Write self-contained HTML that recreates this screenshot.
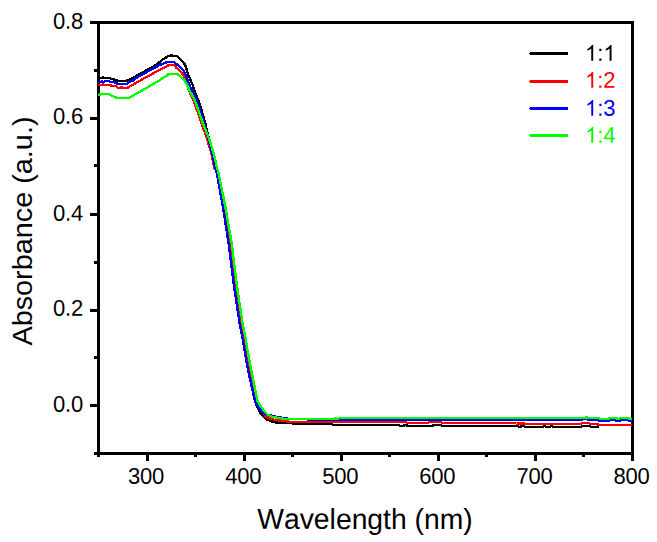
<!DOCTYPE html>
<html><head><meta charset="utf-8"><style>
html,body{margin:0;padding:0;background:#fff;}
body{width:657px;height:542px;overflow:hidden;}
svg{display:block;font-family:"Liberation Sans",sans-serif;font-kerning:none;}
</style></head><body>
<svg width="657" height="542" viewBox="0 0 657 542">
<rect width="657" height="542" fill="#fff"/>
<g fill="#000" shape-rendering="crispEdges">
<rect x="97" y="21" width="3" height="434"/>
<rect x="631" y="21" width="3" height="434"/>
<rect x="97" y="21" width="537" height="3"/>
<rect x="97" y="452" width="537" height="3"/>
<rect x="145.55" y="454" width="3" height="7"/><rect x="242.64" y="454" width="3" height="7"/><rect x="339.73" y="454" width="3" height="7"/><rect x="436.82" y="454" width="3" height="7"/><rect x="533.91" y="454" width="3" height="7"/><rect x="631.00" y="454" width="3" height="7"/><rect x="97.00" y="454" width="3" height="3"/><rect x="194.09" y="454" width="3" height="3"/><rect x="291.18" y="454" width="3" height="3"/><rect x="388.27" y="454" width="3" height="3"/><rect x="485.36" y="454" width="3" height="3"/><rect x="582.45" y="454" width="3" height="3"/><rect x="90" y="21" width="8" height="3"/><rect x="90" y="117" width="8" height="3"/><rect x="90" y="213" width="8" height="3"/><rect x="90" y="309" width="8" height="3"/><rect x="90" y="404" width="8" height="3"/><rect x="94" y="69" width="4" height="3"/><rect x="94" y="164" width="4" height="3"/><rect x="94" y="261" width="4" height="3"/><rect x="94" y="356" width="4" height="3"/><rect x="94" y="452" width="4" height="3"/>
</g>
<g fill="none" stroke-width="2.35" stroke-linejoin="round" shape-rendering="crispEdges">
<polyline stroke="#000" points="98.0,78.0 102.0,78.0 103.0,77.0 104.0,78.0 109.0,78.0 112.0,79.0 116.0,80.0 118.0,81.0 126.0,81.0 128.0,80.0 130.0,79.3 134.0,77.5 137.4,75.3 144.8,71.2 152.1,67.2 155.8,65.1 159.5,62.2 163.2,59.2 166.9,57.0 168.7,56.0 171.0,56.0 171.5,55.0 172.0,56.0 176.8,56.0 178.3,57.2 181.2,60.1 184.2,63.3 186.1,67.1 188.0,74.5 190.0,78.0 191.0,81.9 192.9,85.4 195.3,92.8 198.2,100.1 200.7,107.5 202.9,114.9 205.6,124.5 209.0,139.2 212.3,154.0 215.2,168.7 216.2,170.0 222.9,206.9 228.7,244.0 233.4,281.9 239.4,322.0 242.9,340.3 246.3,360.6 250.4,380.9 255.0,401.2 257.3,407.5 260.0,412.3 262.8,416.0 265.5,418.8 270.3,421.0 274.8,422.3 279.4,422.8 280.0,423.0 292.5,423.0 293.5,424.0 331.8,424.0 332.8,425.0 398.8,425.0 399.8,426.0 403.5,426.0 404.5,425.0 406.5,425.0 407.5,426.0 432.4,426.0 433.4,425.0 441.1,425.0 442.1,426.0 518.1,426.0 519.1,427.0 520.5,427.0 521.5,426.0 524.0,426.0 525.0,427.0 543.2,427.0 544.2,426.0 545.3,426.0 546.3,427.0 550.1,427.0 551.1,426.0 552.2,426.0 553.2,427.0 581.2,427.0 582.2,426.0 589.7,426.0 590.7,427.0 597.7,427.0 598.7,425.0 632.3,425.0"/>
<polyline stroke="#f00" points="98.0,85.0 102.4,85.0 103.0,84.0 104.0,85.0 110.5,85.0 111.0,86.0 116.4,86.0 117.0,87.0 118.0,88.0 120.8,88.0 121.5,87.0 123.0,88.0 127.5,88.0 128.5,87.0 130.4,86.0 132.6,85.0 137.4,82.1 144.8,78.0 152.1,74.0 159.5,69.9 163.2,68.1 166.9,66.2 168.7,65.0 173.9,65.0 176.1,67.5 179.8,70.6 183.5,75.4 184.9,78.6 187.0,85.0 190.0,92.8 193.4,100.1 196.0,107.5 198.8,114.9 202.0,124.5 207.1,139.2 211.5,154.0 214.5,168.7 217.0,170.0 224.0,206.9 230.2,243.7 235.0,281.9 240.8,322.0 244.4,340.3 247.8,360.6 251.9,380.9 256.7,401.2 259.5,407.0 262.5,412.0 265.7,416.4 270.3,418.7 274.8,419.8 281.2,420.8 288.0,421.5 290.0,422.0 405.7,422.0 406.7,423.0 428.1,423.0 429.1,422.0 441.1,422.0 442.1,423.0 515.5,423.0 516.5,423.5 524.5,423.5 525.5,424.0 581.2,424.0 582.2,423.0 589.2,423.0 590.2,424.0 597.7,424.0 598.7,425.0 632.3,425.0"/>
<polyline stroke="#00f" points="98.0,82.0 101.0,82.0 102.0,81.0 103.5,82.0 105.5,81.0 109.0,81.0 110.0,82.0 114.0,82.0 116.0,83.0 118.0,84.0 126.5,84.0 128.0,83.0 130.0,81.7 133.0,80.5 137.4,77.3 144.8,73.2 152.1,69.2 159.5,65.1 163.2,63.6 166.9,62.2 168.0,62.0 173.9,62.0 176.1,63.8 179.8,66.8 183.5,70.6 185.7,74.5 186.8,78.0 189.6,85.4 193.4,92.8 196.6,100.1 199.2,107.5 201.5,114.9 204.6,124.5 208.5,139.2 212.3,154.0 215.2,168.7 216.2,170.0 222.9,206.9 228.7,244.0 233.4,281.9 239.4,322.0 242.9,340.3 246.3,360.6 250.4,380.9 255.0,401.2 259.0,408.5 262.5,412.3 266.0,414.2 270.0,415.3 274.0,416.2 278.0,417.1 283.0,417.9 288.0,418.7 289.0,419.0 307.5,419.0 308.5,420.0 582.3,420.0 583.3,419.0 587.5,419.0 588.5,420.0 598.3,420.0 599.3,421.0 608.4,421.0 609.4,420.0 615.3,420.0 616.3,421.0 619.5,421.0 620.5,420.0 628.5,420.0 629.5,421.0 632.3,421.0"/>
<polyline stroke="#0f0" points="98.0,95.0 99.8,95.0 100.5,94.0 108.7,94.0 110.0,95.0 112.5,96.0 115.0,97.0 117.0,98.0 129.0,98.0 130.5,97.0 132.5,96.0 134.0,95.0 144.8,89.0 152.1,84.7 159.5,80.3 163.2,77.7 166.9,75.5 168.7,74.0 177.5,74.0 179.8,76.0 183.5,79.1 185.7,82.6 187.2,85.4 190.8,92.8 194.8,100.1 197.3,107.5 200.0,114.9 203.4,124.5 209.3,139.2 213.8,154.0 217.2,168.7 218.0,170.0 225.4,206.9 231.8,244.0 236.4,281.9 242.4,322.0 245.9,340.3 249.4,360.6 253.4,380.9 257.5,401.0 260.2,405.5 263.0,409.6 265.7,412.8 268.4,415.0 272.1,416.9 279.4,418.0 284.0,419.0 334.5,419.0 335.5,418.0 335.5,418.0 336.5,419.0 338.0,419.0 339.0,418.0 585.5,418.0 586.5,417.0 587.1,417.0 588.1,418.0 598.8,418.0 599.8,419.0 608.4,419.0 609.4,418.0 616.5,418.0 617.5,419.0 619.0,419.0 620.0,418.0 628.5,418.0 629.5,419.0 632.3,419.0"/>
</g>
<g font-size="22" fill="#000">
<text transform="translate(128.05,483.75) rotate(0.05) scale(1,1.03)" x="0 12 24">300</text><text transform="translate(225.14,483.75) rotate(0.05) scale(1,1.03)" x="0 12 24">400</text><text transform="translate(322.23,483.75) rotate(0.05) scale(1,1.03)" x="0 12 24">500</text><text transform="translate(419.32,483.75) rotate(0.05) scale(1,1.03)" x="0 12 24">600</text><text transform="translate(516.41,483.75) rotate(0.05) scale(1,1.03)" x="0 12 24">700</text><text transform="translate(613.50,483.75) rotate(0.05) scale(1,1.03)" x="0 12 24">800</text>
<text transform="translate(53,28.75) rotate(0.05) scale(1,1.03)" x="0 12 18">0.8</text><text transform="translate(53,123.75) rotate(0.05) scale(1,1.03)" x="0 12 18">0.6</text><text transform="translate(53,220.65) rotate(0.05) scale(1,1.03)" x="0 12 18">0.4</text><text transform="translate(53,315.75) rotate(0.05) scale(1,1.03)" x="0 12 18">0.2</text><text transform="translate(53,411.75) rotate(0.05) scale(1,1.03)" x="0 12 18">0.0</text>
</g>
<g font-size="22">
<rect x="530" y="52" width="38" height="3" fill="#000" shape-rendering="crispEdges"/><rect x="529" y="53" width="1" height="1" fill="#000" shape-rendering="crispEdges"/><path fill="#000" transform="translate(585,60.8) scale(0.010742,-0.010742)" d="M763 0h-180v1147q-65 -62 -170.5 -124t-189.5 -93v174q151 71 264 172t160 196h116v-1472z"/><text fill="#000" transform="translate(597.23,60.8) rotate(0.05) scale(1,1.03)">:</text><path fill="#000" transform="translate(603.35,60.8) scale(0.010742,-0.010742)" d="M763 0h-180v1147q-65 -62 -170.5 -124t-189.5 -93v174q151 71 264 172t160 196h116v-1472z"/><rect x="530" y="80" width="38" height="3" fill="#f00" shape-rendering="crispEdges"/><rect x="529" y="81" width="1" height="1" fill="#f00" shape-rendering="crispEdges"/><path fill="#f00" transform="translate(585,87.8) scale(0.010742,-0.010742)" d="M763 0h-180v1147q-65 -62 -170.5 -124t-189.5 -93v174q151 71 264 172t160 196h116v-1472z"/><text fill="#f00" transform="translate(597.23,87.8) rotate(0.05) scale(1,1.03)">:</text><text fill="#f00" transform="translate(603.35,87.8) rotate(0.05) scale(1,1.03)">2</text><rect x="530" y="107" width="38" height="3" fill="#00f" shape-rendering="crispEdges"/><rect x="529" y="108" width="1" height="1" fill="#00f" shape-rendering="crispEdges"/><path fill="#00f" transform="translate(585,115.8) scale(0.010742,-0.010742)" d="M763 0h-180v1147q-65 -62 -170.5 -124t-189.5 -93v174q151 71 264 172t160 196h116v-1472z"/><text fill="#00f" transform="translate(597.23,115.8) rotate(0.05) scale(1,1.03)">:</text><text fill="#00f" transform="translate(603.35,115.8) rotate(0.05) scale(1,1.03)">3</text><rect x="530" y="134" width="38" height="3" fill="#0f0" shape-rendering="crispEdges"/><rect x="529" y="135" width="1" height="1" fill="#0f0" shape-rendering="crispEdges"/><path fill="#0f0" transform="translate(585,142.8) scale(0.010742,-0.010742)" d="M763 0h-180v1147q-65 -62 -170.5 -124t-189.5 -93v174q151 71 264 172t160 196h116v-1472z"/><text fill="#0f0" transform="translate(597.23,142.8) rotate(0.05) scale(1,1.03)">:</text><text fill="#0f0" transform="translate(603.35,142.8) rotate(0.05) scale(1,1.03)">4</text>
</g>
<text transform="translate(365.0,528.9) rotate(0.03) scale(1,1.02)" font-size="28.3" text-anchor="middle" fill="#000">Wavelength (nm)</text>
<text transform="translate(31.8,231.05) rotate(-90) scale(1,0.98)" font-size="28.83" text-anchor="middle" fill="#000">Absorbance (a.u.)</text>
</svg>
</body></html>
